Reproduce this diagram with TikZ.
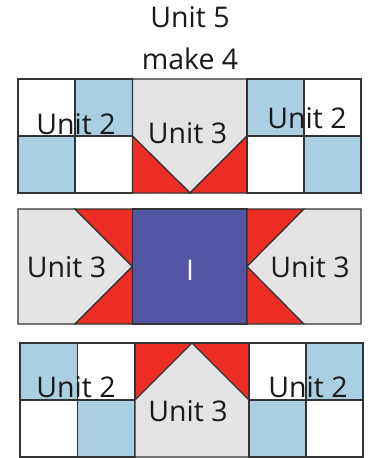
\documentclass[tikz,border=0pt]{standalone}
\usepackage{fontspec}
\setmainfont{Open Sans}
\usepackage{xcolor}
\definecolor{patchblue}{RGB}{170,207,226}
\definecolor{patchgray}{RGB}{228,228,228}
\definecolor{patchred}{RGB}{238,46,36}
\definecolor{patchnavy}{RGB}{82,84,164}
\newcommand{\unitfont}{\fontsize{28.5}{34}\selectfont}

\begin{document}
\begin{tikzpicture}[x=1pt, y=-1pt, line width=1.2pt, draw=black!80,
  patch/.style={draw=black!80, line join=miter},
  unitlabel/.style={anchor=base, inner sep=0pt, font=\unitfont, text=black!90}]
  \useasboundingbox (0,0) rectangle (370,458);
  % title
  \node[unitlabel] (title) at (190,27) {Unit 5};
  \node[unitlabel] (make) at (190,69) {make 4};
  % top row: unit 2
  \draw[patch, fill=white] (18,79) rectangle (75,136);
  \draw[patch, fill=patchblue] (75,79) rectangle (132.5,136);
  \draw[patch, fill=patchblue] (18,136) rectangle (75,193);
  \draw[patch, fill=white] (75,136) rectangle (132.5,193);
  % top row: unit 3
  \draw[patch, fill=patchgray] (132.5,79) -- (247,79) -- (247,136) -- (190,193) -- (132.5,136) -- cycle;
  \draw[patch, fill=patchred] (132.5,136) -- (190,193) -- (132.5,193) -- cycle;
  \draw[patch, fill=patchred] (247,136) -- (247,193) -- (190,193) -- cycle;
  % top row: unit 2
  \draw[patch, fill=patchblue] (247,79) rectangle (304,136);
  \draw[patch, fill=white] (304,79) rectangle (361,136);
  \draw[patch, fill=white] (247,136) rectangle (304,193);
  \draw[patch, fill=patchblue] (304,136) rectangle (361,193);
  \node[unitlabel] (topleft) at (76,134) {Unit 2};
  \node[unitlabel] (topmid) at (187.5,143) {Unit 3};
  \node[unitlabel] (topright) at (307,128) {Unit 2};
  % middle row: unit 3, centre, unit 3
  \draw[patch, fill=patchgray] (18,209) -- (75,209) -- (132.5,266.5) -- (75,324) -- (18,324) -- cycle;
  \draw[patch, fill=patchred] (75,209) -- (132.5,209) -- (132.5,266.5) -- cycle;
  \draw[patch, fill=patchred] (75,324) -- (132.5,324) -- (132.5,266.5) -- cycle;
  \draw[patch, fill=patchnavy] (132.5,209) rectangle (247,324);
  \draw[patch, fill=patchred] (247,209) -- (304,209) -- (247,266.5) -- cycle;
  \draw[patch, fill=patchred] (247,324) -- (304,324) -- (247,266.5) -- cycle;
  \draw[patch, fill=patchgray] (304,209) -- (361,209) -- (361,324) -- (304,324) -- (247,266.5) -- cycle;
  \node[unitlabel] (midleft) at (66.5,277) {Unit 3};
  \node[unitlabel, text=white] (centre) at (190,280) {I};
  \node[unitlabel] (midright) at (310,277) {Unit 3};
  % bottom row: unit 2
  \draw[patch, fill=patchblue] (20,343) rectangle (77.5,400);
  \draw[patch, fill=white] (77.5,343) rectangle (135,400);
  \draw[patch, fill=white] (20,400) rectangle (77.5,457);
  \draw[patch, fill=patchblue] (77.5,400) rectangle (135,457);
  % bottom row: unit 3
  \draw[patch, fill=patchred] (135,343) rectangle (249,400);
  \draw[patch, fill=patchgray] (135,400) -- (192,343) -- (249,400) -- (249,457) -- (135,457) -- cycle;
  % bottom row: unit 2
  \draw[patch, fill=white] (249,343) rectangle (306,400);
  \draw[patch, fill=patchblue] (306,343) rectangle (363,400);
  \draw[patch, fill=patchblue] (249,400) rectangle (306,457);
  \draw[patch, fill=white] (306,400) rectangle (363,457);
  \node[unitlabel] (botleft) at (76,397) {Unit 2};
  \node[unitlabel] (botmid) at (188,421) {Unit 3};
  \node[unitlabel] (botright) at (308,397) {Unit 2};
\end{tikzpicture}
\end{document}
